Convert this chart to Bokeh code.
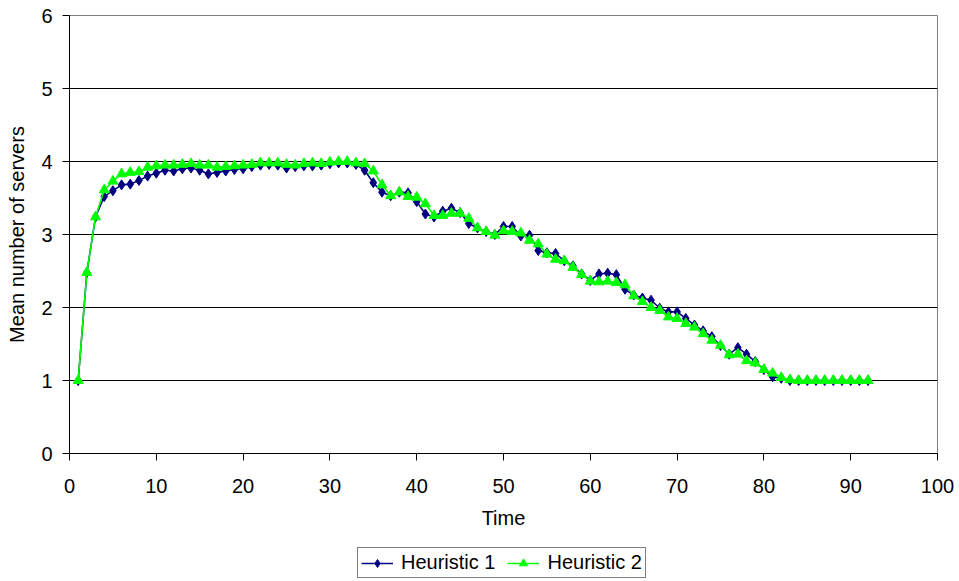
from bokeh.plotting import figure
from bokeh.layouts import column
from bokeh.models import Range1d, FixedTicker, Legend, LegendItem
from bokeh.embed import file_html
from bokeh.resources import INLINE

time = list(range(1, 93))
heuristic1 = [1.00, 2.48, 3.24, 3.52, 3.60, 3.68, 3.69, 3.74, 3.80, 3.84,
              3.88, 3.87, 3.90, 3.91, 3.88, 3.83, 3.85, 3.87, 3.89, 3.90,
              3.93, 3.95, 3.96, 3.95, 3.91, 3.93, 3.94, 3.94, 3.95, 3.97,
              3.98, 3.98, 3.96, 3.88, 3.71, 3.58, 3.53, 3.58, 3.57, 3.45,
              3.28, 3.24, 3.32, 3.36, 3.30, 3.15, 3.09, 3.04, 3.00, 3.11,
              3.11, 2.98, 2.99, 2.78, 2.75, 2.74, 2.64, 2.57, 2.46, 2.37,
              2.46, 2.47, 2.45, 2.25, 2.17, 2.13, 2.10, 1.99, 1.94, 1.94,
              1.85, 1.76, 1.68, 1.60, 1.48, 1.36, 1.45, 1.36, 1.26, 1.15,
              1.05, 1.03, 1.00, 1.00, 1.00, 1.00, 1.00, 1.00, 1.00, 1.00,
              1.00, 1.00]
heuristic2 = [1.00, 2.48, 3.24, 3.61, 3.73, 3.83, 3.85, 3.86, 3.92, 3.94,
              3.95, 3.95, 3.96, 3.97, 3.95, 3.95, 3.92, 3.93, 3.94, 3.95,
              3.96, 3.98, 3.98, 3.98, 3.96, 3.95, 3.97, 3.98, 3.97, 3.99,
              4.00, 4.00, 3.98, 3.97, 3.87, 3.68, 3.53, 3.58, 3.52, 3.51,
              3.42, 3.26, 3.26, 3.29, 3.29, 3.22, 3.09, 3.04, 2.99, 3.05,
              3.04, 3.02, 2.92, 2.87, 2.73, 2.66, 2.64, 2.55, 2.45, 2.36,
              2.35, 2.36, 2.34, 2.31, 2.16, 2.08, 2.00, 1.96, 1.87, 1.85,
              1.78, 1.73, 1.64, 1.55, 1.48, 1.35, 1.36, 1.27, 1.24, 1.15,
              1.10, 1.04, 1.01, 1.00, 1.00, 1.00, 1.00, 1.00, 1.00, 1.00,
              1.00, 1.00]
x_ticks = [0, 10, 20, 30, 40, 50, 60, 70, 80, 90, 100]
y_ticks = [0, 1, 2, 3, 4, 5, 6]
series_names = ["Heuristic 1", "Heuristic 2"]

FONT = "Liberation Sans"
FS = "20px"
C1 = "#000080"
C2 = "#00FF00"

p = figure(width=959, height=540, output_backend="svg", toolbar_location=None,
           x_range=Range1d(0, 100), y_range=Range1d(0, 6),
           min_border_left=69, min_border_right=22, min_border_top=15,
           min_border_bottom=87)
p.outline_line_color = "#808080"
p.outline_line_width = 1

p.xaxis.ticker = FixedTicker(ticks=x_ticks)
p.yaxis.ticker = FixedTicker(ticks=y_ticks)
p.xgrid.visible = False
p.ygrid.ticker = FixedTicker(ticks=[1, 2, 3, 4, 5])
p.ygrid.grid_line_color = "black"
p.ygrid.grid_line_width = 1

for ax in (p.xaxis[0], p.yaxis[0]):
    ax.axis_line_color = "black"
    ax.major_tick_line_color = "black"
    ax.major_tick_out = 7
    ax.major_tick_in = 0
    ax.minor_tick_line_color = None
    ax.major_label_text_font = FONT
    ax.major_label_text_font_size = FS
    ax.major_label_text_color = "black"
    ax.axis_label_text_font = FONT
    ax.axis_label_text_font_size = FS
    ax.axis_label_text_font_style = "normal"
    ax.axis_label_text_color = "black"

p.xaxis.axis_label = "Time"
p.yaxis.axis_label = "Mean number of servers"
p.xaxis.major_label_standoff = 18
p.yaxis.major_label_standoff = 10
p.xaxis.axis_label_standoff = 11
p.yaxis.axis_label_standoff = 10

p.line(time, heuristic1, line_color=C1, line_width=1.6)
p.scatter(time, heuristic1, marker="diamond", size=10,
          fill_color=C1, line_color=C1)
p.line(time, heuristic2, line_color=C2, line_width=1.6)
p.scatter(time, heuristic2, marker="triangle", size=10,
          fill_color=C2, line_color=C2)

# legend strip below the chart
q = figure(width=959, height=41, output_backend="svg", toolbar_location=None,
           x_range=Range1d(0, 1), y_range=Range1d(0, 1),
           x_axis_location=None, y_axis_location=None,
           min_border_left=0, min_border_right=0, min_border_top=0,
           min_border_bottom=0)
q.outline_line_color = None
q.xgrid.visible = False
q.ygrid.visible = False

ql1 = q.line([-5, -4], [-5, -4], line_color=C1, line_width=1.6)
qm1 = q.scatter([-5], [-5], marker="diamond", size=10, fill_color=C1, line_color=C1)
ql2 = q.line([-5, -4], [-5, -4], line_color=C2, line_width=1.6)
qm2 = q.scatter([-5], [-5], marker="triangle", size=10, fill_color=C2, line_color=C2)

legend = Legend(items=[LegendItem(label=series_names[0], renderers=[ql1, qm1]),
                       LegendItem(label=series_names[1], renderers=[ql2, qm2])],
                orientation="horizontal", location=(288, 3),
                border_line_color="black", border_line_width=1,
                background_fill_color="white", background_fill_alpha=1,
                label_text_font=FONT, label_text_font_size=FS,
                label_text_color="black",
                glyph_width=32, glyph_height=20, label_standoff=8,
                spacing=12, padding=3, margin=0, label_height=20)
q.add_layout(legend, "center")

layout = column(p, q, spacing=0)
open("out.html", "w").write(file_html(layout, INLINE))
